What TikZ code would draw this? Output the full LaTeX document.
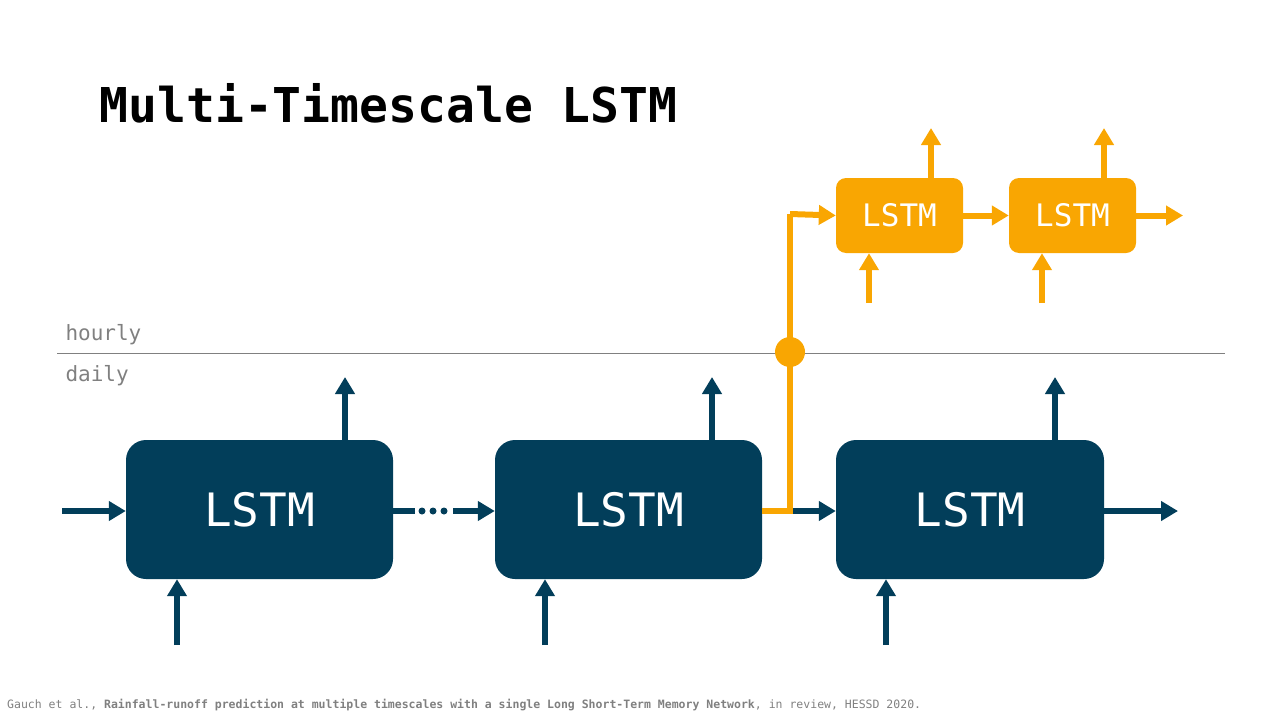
\documentclass[tikz,border=0pt]{standalone}
\usepackage{fontspec}
\setmainfont{DejaVu Sans Mono}
\usetikzlibrary{arrows.meta}
\definecolor{navy}{HTML}{023E5A}
\definecolor{amber}{HTML}{F9A602}
\definecolor{txtgray}{HTML}{808080}
\begin{document}
\begin{tikzpicture}[x=1pt,y=-1pt,
  bbox/.style={fill=navy,rounded corners=20pt,inner sep=0pt,text=white,font=\fontsize{46}{46}\selectfont},
  obox/.style={fill=amber,rounded corners=10pt,inner sep=0pt,text=white,font=\fontsize{31}{31}\selectfont},
  barr/.style={navy,line width=6pt,-{Triangle[length=17pt,width=19pt]}},
  oarr/.style={amber,line width=6pt,-{Triangle[length=17pt,width=19pt]}},
  lbl/.style={text=txtgray,font=\fontsize{21}{21}\selectfont,anchor=west}]
\useasboundingbox (0,0) rectangle (1280,720);
\node[anchor=base west,font=\fontsize{48}{48}\selectfont\bfseries] (title) at (96,122) {Multi-Timescale LSTM};
\coordinate (la) at (57,353); \coordinate (lb) at (1225,353);
\draw[txtgray,line width=1pt] (la) -- (lb);
\node[lbl] (hourly) at (62,335) {hourly};
\node[lbl] (daily) at (62,376) {daily};
% blue boxes
\node[bbox,minimum width=267pt,minimum height=139pt] (b1) at (259.5,509.5) {LSTM};
\node[bbox,minimum width=267pt,minimum height=139pt] (b2) at (628.5,509.5) {LSTM};
\node[bbox,minimum width=268pt,minimum height=139pt] (b3) at (970,509.5) {LSTM};
% orange boxes
\node[obox,minimum width=127pt,minimum height=75pt] (o1) at (899.5,215.5) {LSTM};
\node[obox,minimum width=127pt,minimum height=75pt] (o2) at (1072.5,215.5) {LSTM};
% blue coordinates
\coordinate (in0) at (62,511);
\draw[barr] (in0) -- (b1.west|-in0);
\foreach \b/\x in {b1/345,b2/712,b3/1055}{
  \coordinate (u\b) at (\x,377);
  \draw[barr] (\b.north-|u\b) -- (u\b);}
\foreach \b/\x in {b1/177,b2/545,b3/886}{
  \coordinate (d\b) at (\x,645);
  \draw[barr] (d\b) -- (\b.south-|d\b);}
% dotted connector
\coordinate (c1) at (415,511); \coordinate (c2) at (453,511);
\draw[navy,line width=6pt] (b1.east|-in0) -- (c1);
\foreach \x in {422,433,444} \fill[navy] (\x,511) circle (3.5pt);
\draw[barr] (c2) -- (b2.west|-c2);
% branch
\coordinate (j) at (790,511);
\coordinate (jt) at (790,214);
\draw[barr] (j) -- (b3.west|-j);
\draw[amber,line width=6pt,line join=miter] (b2.east|-j) -- (j) -- (jt);
\draw[oarr] (790,214) -- (o1.west);
\node[circle,fill=amber,minimum size=30pt,inner sep=0pt] (jc) at (790,352) {};
\coordinate (out3) at (1178,511);
\draw[barr] (b3.east|-out3) -- (out3);
% orange arrows
\draw[oarr] (o1) ++(0,0) (o1.east) -- (o2.west);
\coordinate (oout) at (1183,215.5);
\draw[oarr] (o2.east) -- (oout);
\foreach \b/\x in {o1/931,o2/1104}{
  \coordinate (ou\b) at (\x,128);
  \draw[oarr] (\b.north-|ou\b) -- (ou\b);}
\foreach \b/\x in {o1/869,o2/1042}{
  \coordinate (od\b) at (\x,303);
  \draw[oarr] (od\b) -- (\b.south-|od\b);}
\node[anchor=west,text=txtgray,font=\fontsize{11.5}{12}\selectfont,inner sep=0pt] (foot) at (7,705) {Gauch et al., \textbf{Rainfall-runoff prediction at multiple timescales with a single Long Short-Term Memory Network}, in review, HESSD 2020.};
\end{tikzpicture}
\end{document}
